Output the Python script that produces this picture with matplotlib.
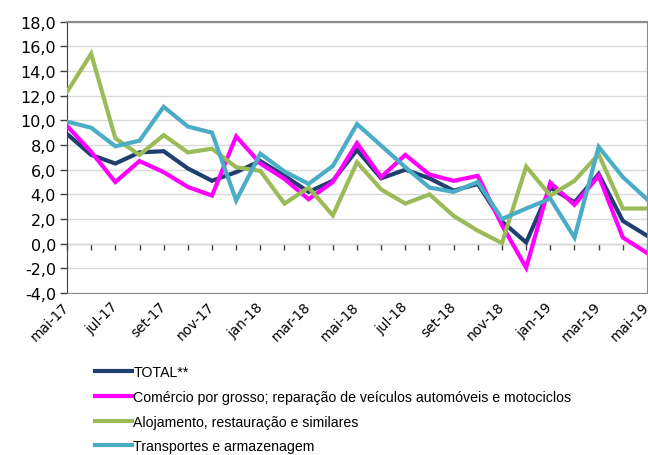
import matplotlib
matplotlib.use("Agg")
import matplotlib.pyplot as plt
from matplotlib.ticker import FuncFormatter, MultipleLocator

# monthly series, mai-17 .. mai-19
months = ["mai-17", "jun-17", "jul-17", "ago-17", "set-17", "out-17", "nov-17",
          "dez-17", "jan-18", "fev-18", "mar-18", "abr-18", "mai-18", "jun-18",
          "jul-18", "ago-18", "set-18", "out-18", "nov-18", "dez-18", "jan-19",
          "fev-19", "mar-19", "abr-19", "mai-19"]

total = [8.9, 7.2, 6.5, 7.4, 7.5, 6.1, 5.1, 5.8, 6.7, 5.5, 4.2, 5.1, 7.6,
         5.3, 6.0, 5.3, 4.3, 4.85, 1.8, 0.1, 4.55, 3.35, 5.65, 1.85, 0.65]
comercio = [9.55, 7.45, 5.0, 6.7, 5.8, 4.6, 3.9, 8.7, 6.5, 5.25, 3.6, 5.0, 8.15,
            5.4, 7.2, 5.6, 5.1, 5.5, 1.5, -1.95, 4.95, 3.15, 5.5, 0.5, -0.75]
alojamento = [12.3, 15.4, 8.55, 7.2, 8.8, 7.4, 7.7, 6.2, 5.9, 3.25, 4.55, 2.3, 6.6,
              4.4, 3.25, 4.0, 2.25, 1.05, 0.05, 6.25, 3.9, 5.1, 7.25, 2.85, 2.85]
transportes = [9.9, 9.4, 7.9, 8.35, 11.1, 9.5, 9.0, 3.5, 7.3, 5.85, 4.85, 6.3, 9.7,
               7.95, 6.2, 4.55, 4.2, 5.0, 2.0, 2.85, 3.65, 0.5, 7.85, 5.4, 3.6]

series_labels = ["TOTAL**",
                 "Comércio por grosso; reparação de veículos automóveis e motociclos",
                 "Alojamento, restauração e similares",
                 "Transportes e armazenagem"]
colors = ["#1F3F70", "#FF00FF", "#9BBB59", "#4BACC6"]

fig = plt.figure(figsize=(6.48, 4.56), dpi=100)
ax = fig.add_axes([67 / 648, 1 - 294 / 456, 580 / 648, (294 - 22.7) / 456])

x = list(range(len(months)))
for vals, lab, c in zip([total, comercio, alojamento, transportes], series_labels, colors):
    ax.plot(x, vals, color=c, lw=3, label=lab, solid_joinstyle="miter", zorder=3)

ax.set_xlim(0, len(months) - 1)
ax.set_ylim(-4, 18)
ax.yaxis.set_major_locator(MultipleLocator(2))
ax.yaxis.set_major_formatter(FuncFormatter(lambda v, _: f"{v:.1f}".replace(".", ",")))
ax.grid(axis="y", color="#D9D9D9", lw=1, zorder=0)
ax.tick_params(axis="y", direction="out", length=5, width=1, color="#404040",
               labelsize=11.5, pad=3)

# category labels at the bottom, every second month
ax.set_xticks(x[::2])
ax.set_xticklabels(months[::2], rotation=45, ha="right", va="center",
                   rotation_mode="anchor", fontsize=9.8)
ax.tick_params(axis="x", length=0, pad=8)

# axis line at zero with monthly tick marks
sec = ax.secondary_xaxis(4 / 22)
sec.set_xticks(x)
sec.set_xticklabels([])
sec.tick_params(direction="out", length=4, width=1, color="#404040")
sec.spines["bottom"].set_color("#404040")

ax.spines["left"].set_color("#404040")
for s in ["bottom", "top", "right"]:
    ax.spines[s].set_color("#8C8C8C")
ax.spines["top"].set_linewidth(1.6)

fig.legend(loc="upper left", bbox_to_anchor=(95 / 648, 1 - 366 / 456),
           frameon=False, prop={"family": "Liberation Sans", "size": 10.2},
           handlelength=2.6, handletextpad=0.1, labelspacing=0.76,
           borderpad=0, borderaxespad=0)

fig.savefig("out.png", dpi=100)
